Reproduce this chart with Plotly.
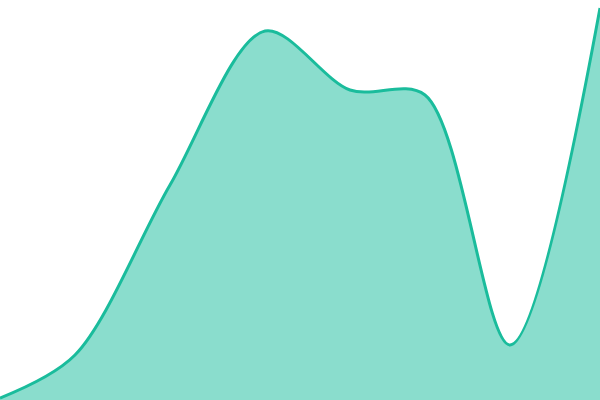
import plotly.graph_objects as go

# sample positions and heights
xs = [0, 75, 170, 265, 350, 425, 510, 600]
ys = [2, 45, 215, 369, 310, 305, 55, 392]

fig = go.Figure()
fig.add_trace(go.Scatter(
    x=xs, y=ys,
    mode="lines",
    line=dict(color="#1abc9c", width=3, shape="spline", smoothing=0.9),
    fill="tozeroy",
    fillcolor="rgba(26,188,156,0.51)",
    hoverinfo="skip",
))

fig.update_layout(
    width=600, height=400,
    margin=dict(l=0, r=0, t=0, b=0),
    paper_bgcolor="white", plot_bgcolor="white",
    showlegend=False,
    xaxis=dict(visible=False, range=[0, 600]),
    yaxis=dict(visible=False, range=[0, 400]),
)

# drop the default body margin so the figure sits at the window corner
fig.write_html(
    "out.html",
    config={"displayModeBar": False},
    post_script="document.body.style.margin='0';document.body.style.overflow='hidden';",
)
